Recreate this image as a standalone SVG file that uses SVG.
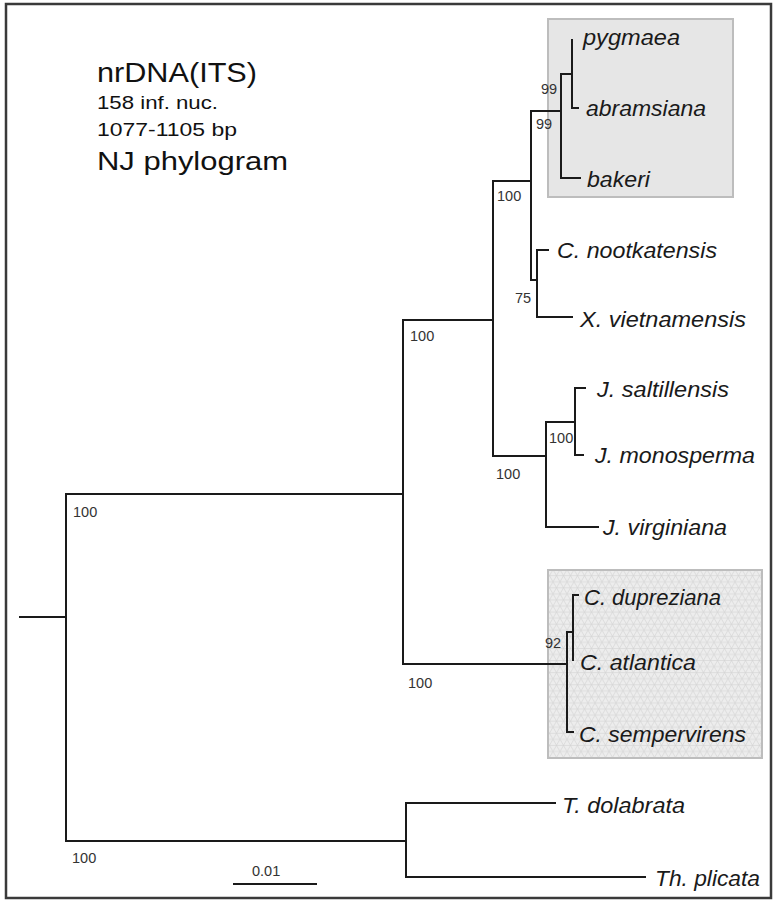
<svg xmlns="http://www.w3.org/2000/svg" width="773" height="901" viewBox="0 0 773 901">
<style>
.br{fill:none;stroke:#1a1a1a;stroke-width:2;stroke-linecap:square}
.sp{font-family:"Liberation Sans",Arial,sans-serif;font-style:italic;font-size:21.5px;fill:#1a1a1a}
.bs{font-family:"Liberation Sans",Arial,sans-serif;font-size:14.5px;fill:#333}
.ti{font-family:"Liberation Sans",Arial,sans-serif;fill:#111}
</style>
<defs>
<pattern id="tri" width="7" height="12.12" patternUnits="userSpaceOnUse">
<rect width="7" height="12.12" fill="#ededed"/>
<path d="M0,0H7M0,6.06H7M0,12.12H7M0,0L3.5,6.06L7,0M0,12.12L3.5,6.06L7,12.12" fill="none" stroke="#d2d2d2" stroke-width="0.6"/>
</pattern>
</defs>
<rect x="6" y="4" width="765" height="894" fill="#fff" stroke="#3a3a3a" stroke-width="2.5"/>
<g id="title">
<text class="ti" x="97" y="82" font-size="27" textLength="160" lengthAdjust="spacingAndGlyphs">nrDNA(ITS)</text>
<text class="ti" x="97" y="109" font-size="18.5" textLength="121" lengthAdjust="spacingAndGlyphs">158 inf. nuc.</text>
<text class="ti" x="97" y="136" font-size="18.5" textLength="140" lengthAdjust="spacingAndGlyphs">1077-1105 bp</text>
<text class="ti" x="97" y="170" font-size="26.5" textLength="191" lengthAdjust="spacingAndGlyphs">NJ phylogram</text>
</g>
<g id="box-upper"><rect x="548" y="19" width="185" height="178" fill="#e6e6e6" stroke="#bdbdbd" stroke-width="2"/></g>
<g id="box-lower"><rect x="548" y="570" width="214" height="188" fill="url(#tri)" stroke="#bdbdbd" stroke-width="2"/></g>
<g id="connectors" class="br">
<path d="M20,617H66M66,494V841M66,494H403M66,841H406"/>
<path d="M403,320V664M403,320H493M403,664H567"/>
<path d="M493,181V456M493,181H531M493,456H546"/>
<path d="M531,111V280M531,111H561M531,280H537"/>
<path d="M561,74V178M561,74H572M561,178H580"/>
<path d="M572,40V108M572,108H578"/>
<path d="M537,250V317M537,250H548M537,317H572"/>
<path d="M546,422V527M546,422H575M546,527H598"/>
<path d="M575,388V455M575,388H585M575,455H583"/>
<path d="M567,632V732M567,632H573M567,732H573"/>
<path d="M573,595V660M573,595H578"/>
<path d="M406,803V877M406,803H555M406,877H645"/>
</g>
<g id="support">
<text class="bs" x="73" y="517">100</text>
<text class="bs" x="72" y="863">100</text>
<text class="bs" x="410" y="341">100</text>
<text class="bs" x="408" y="688">100</text>
<text class="bs" x="497" y="201">100</text>
<text class="bs" x="496" y="479">100</text>
<text class="bs" x="549" y="443">100</text>
<text class="bs" x="541" y="94">99</text>
<text class="bs" x="536" y="129">99</text>
<text class="bs" x="515" y="303">75</text>
<text class="bs" x="545" y="648">92</text>
</g>
<g id="taxa">
<g id="t-pygmaea"><text class="sp" x="583" y="45" textLength="97" lengthAdjust="spacingAndGlyphs">pygmaea</text></g>
<g id="t-abramsiana"><text class="sp" x="586" y="116" textLength="120" lengthAdjust="spacingAndGlyphs">abramsiana</text></g>
<g id="t-bakeri"><text class="sp" x="587" y="187" textLength="63" lengthAdjust="spacingAndGlyphs">bakeri</text></g>
<g id="t-nootkatensis"><text class="sp" x="557" y="258" textLength="160" lengthAdjust="spacingAndGlyphs">C. nootkatensis</text></g>
<g id="t-vietnamensis"><text class="sp" x="580" y="327" textLength="166" lengthAdjust="spacingAndGlyphs">X. vietnamensis</text></g>
<g id="t-saltillensis"><text class="sp" x="597" y="397" textLength="132" lengthAdjust="spacingAndGlyphs">J. saltillensis</text></g>
<g id="t-monosperma"><text class="sp" x="595" y="463" textLength="160" lengthAdjust="spacingAndGlyphs">J. monosperma</text></g>
<g id="t-virginiana"><text class="sp" x="603" y="535" textLength="124" lengthAdjust="spacingAndGlyphs">J. virginiana</text></g>
<g id="t-dupreziana"><text class="sp" x="584" y="605" textLength="137" lengthAdjust="spacingAndGlyphs">C. dupreziana</text></g>
<g id="t-atlantica"><text class="sp" x="580" y="670" textLength="116" lengthAdjust="spacingAndGlyphs">C. atlantica</text></g>
<g id="t-sempervirens"><text class="sp" x="579" y="742" textLength="167" lengthAdjust="spacingAndGlyphs">C. sempervirens</text></g>
<g id="t-dolabrata"><text class="sp" x="562" y="813" textLength="123" lengthAdjust="spacingAndGlyphs">T. dolabrata</text></g>
<g id="t-plicata"><text class="sp" x="655" y="886" textLength="105" lengthAdjust="spacingAndGlyphs">Th. plicata</text></g>
</g>
<g id="scale">
<path class="br" d="M234,884H316"/>
<text class="bs" x="252" y="876">0.01</text>
</g>
</svg>
